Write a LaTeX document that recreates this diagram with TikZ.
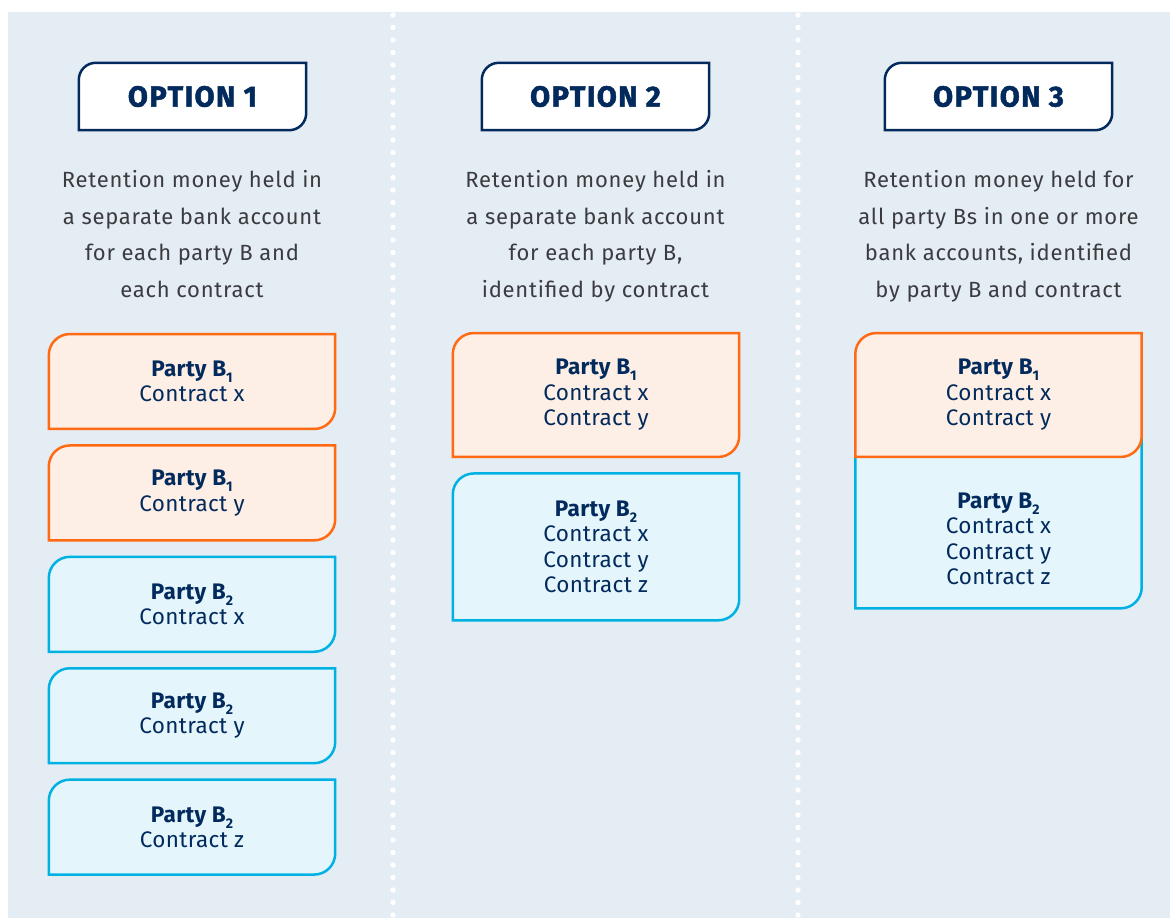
\documentclass[tikz,border=0pt]{standalone}
\usepackage{fontspec}
\setmainfont{Fira Sans}
\newfontfamily\titlefont{Fira Sans}[LetterSpace=5, BoldFeatures={FakeBold=1.6}]
\usetikzlibrary{positioning,backgrounds}

\definecolor{pagebg}{RGB}{228,236,244}
\definecolor{navy}{RGB}{2,42,92}
\definecolor{infogrey}{RGB}{58,60,64}
\definecolor{partyone}{RGB}{255,106,19}
\definecolor{partyonebg}{RGB}{253,239,229}
\definecolor{partytwo}{RGB}{0,178,227}
\definecolor{partytwobg}{RGB}{228,245,252}

% small lowered index for party names
\newcommand\lowidx[1]{\raisebox{-6pt}{\fontsize{14}{14}\selectfont #1}}
% box with rounded top-left and bottom-right corners: style, radius, nw, se
\newcommand\tabshape[4]{%
    \path[#1] (#3 |- #4) -- ([yshift=-#2]#3) arc[start angle=180,end angle=90,radius=#2]
        -- (#4 |- #3) -- ([yshift=#2]#4) arc[start angle=0,end angle=-90,radius=#2] -- cycle;}

\begin{document}
\begin{tikzpicture}[
            x=1pt, y=-1pt,
            node distance=16.5pt,
            title/.style={minimum width=227pt, minimum height=67pt, inner sep=0pt, text=navy, font=\fontsize{29}{29}\titlefont\bfseries},
            titlebox/.style={draw=navy, line width=2.5pt, fill=white},
            info/.style={anchor=north, align=center, inner sep=0pt, text=infogrey, font=\fontsize{22}{36.7}\selectfont\addfontfeatures{LetterSpace=3.5}},
            party/.style={minimum width=286pt, inner sep=0pt, align=center, text=navy, font=\fontsize{22.5}{25.5}\selectfont\addfontfeatures{LetterSpace=1.5}},
            onebox/.style={draw=partyone, line width=2.5pt, fill=partyonebg},
            twobox/.style={draw=partytwo, line width=2.5pt, fill=partytwobg}
        ]
        \useasboundingbox (0,0) rectangle (1170,918);

        % option 1
        \node[title] (t1) at (192.5,96.5) {OPTION 1};
        \node[info] (d1) at (192,170) {Retention money held in\\a separate bank account\\for each party B and\\each contract};
        \node[party, minimum height=94.5pt] (o1a) at (192,381.5) {\textbf{Party B\lowidx{1}}\\Contract x};
        \node[party, minimum height=94.5pt, below=of o1a] (o1b) {\textbf{Party B\lowidx{1}}\\Contract y};
        \node[party, minimum height=94.5pt, below=of o1b] (o1c) {\textbf{Party B\lowidx{2}}\\Contract x};
        \node[party, minimum height=94.5pt, below=of o1c] (o1d) {\textbf{Party B\lowidx{2}}\\Contract y};
        \node[party, minimum height=94.5pt, below=of o1d] (o1e) {\textbf{Party B\lowidx{2}}\\Contract z};

        % option 2
        \node[title] (t2) at (595.5,96.5) {OPTION 2};
        \node[info] (d2) at (595.5,170) {Retention money held in\\a separate bank account\\for each party B,\\identified by contract};
        \node[party, minimum height=123.5pt] (o2a) at (596,395) {\textbf{Party B\lowidx{1}}\\Contract x\\Contract y};
        \node[party, minimum height=146.5pt, below=of o2a] (o2b) {\textbf{Party B\lowidx{2}}\\Contract x\\Contract y\\Contract z};

        % option 3
        \node[title] (t3) at (998.5,96.5) {OPTION 3};
        \node[info] (d3) at (998.5,170) {Retention money held for\\all party Bs in one or more\\bank accounts, identified\\by party B and contract};
        \node[party, minimum height=123.5pt] (o3a) at (998.5,395) {\textbf{Party B\lowidx{1}}\\Contract x\\Contract y};
        \node[party, minimum height=139pt, below=12pt of o3a] (o3b) {\textbf{Party B\lowidx{2}}\\Contract x\\Contract y\\Contract z};
        \coordinate (o3top) at ([yshift=40pt]o3b.north west);

        \begin{pgfonlayer}{background}
            \fill[pagebg] (8,12) rectangle (1170,918);
            \foreach \x in {393,798}
                \foreach \y in {15,27.5,...,918}
                    \fill[white] (\x,\y) circle[radius=2.7pt];
            \foreach \n in {t1,t2,t3}
                \tabshape{titlebox}{17pt}{\n.north west}{\n.south east};
            \foreach \n in {o1a,o1b,o2a}
                \tabshape{onebox}{21pt}{\n.north west}{\n.south east};
            \foreach \n in {o1c,o1d,o1e,o2b}
                \tabshape{twobox}{21pt}{\n.north west}{\n.south east};
            \tabshape{twobox}{21pt}{o3top}{o3b.south east};
            \tabshape{onebox}{21pt}{o3a.north west}{o3a.south east};
        \end{pgfonlayer}

        \end{tikzpicture}
\end{document}
